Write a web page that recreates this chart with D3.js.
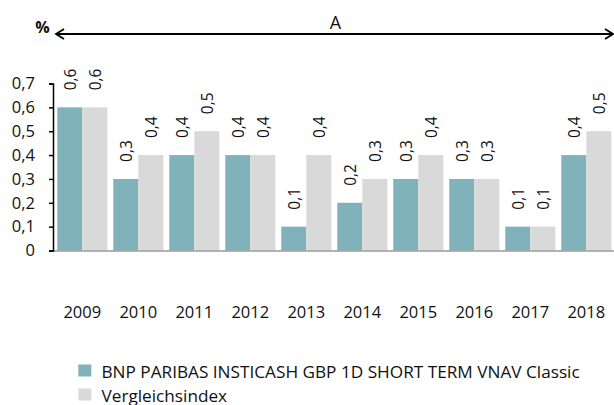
<!DOCTYPE html>
<html><head><meta charset="utf-8">
<script src="https://cdn.jsdelivr.net/npm/d3@7"></script>
<style>body{margin:0;background:#fff}svg{display:block}text{font-family:"Open Sans",sans-serif;fill:#111}</style>
</head><body><svg id="c" width="614" height="405"></svg>
<script>
const years = ["2009","2010","2011","2012","2013","2014","2015","2016","2017","2018"];
const fund = [0.6,0.3,0.4,0.4,0.1,0.2,0.3,0.3,0.1,0.4];
const bench = [0.6,0.4,0.5,0.4,0.4,0.3,0.4,0.3,0.1,0.5];
const yTicks = [0,0.1,0.2,0.3,0.4,0.5,0.6,0.7];
const seriesNames = ["BNP PARIBAS INSTICASH GBP 1D SHORT TERM VNAV Classic","Vergleichsindex"];
const colors = ["#7fb3b9","#d9d9d9"];

const svg = d3.select("#c");
const x = d3.scaleBand().domain(years).range([57.3,611.3]).paddingInner(0.107).paddingOuter(0);
const sub = d3.scaleBand().domain([0,1]).range([0,x.bandwidth()]);
const y = d3.scaleLinear().domain([0,0.7]).range([250.5,83.5]);
const fmt = v => d3.format(".1f")(v).replace(".",",");

// bars
const series = [fund,bench];
series.forEach((vals,si)=>{
  svg.append("g").selectAll("rect").data(vals).join("rect")
    .attr("x",(d,i)=>x(years[i])+sub(si))
    .attr("y",d=>y(d)).attr("width",sub.bandwidth()).attr("height",d=>y(0)-y(d))
    .attr("fill",colors[si]);
  svg.append("g").selectAll("text").data(vals).join("text")
    .attr("transform",(d,i)=>`translate(${x(years[i])+sub(si)+sub.bandwidth()/2+5.8},${y(d)-17}) rotate(-90)`)
    .attr("font-size",15.5).text(d=>fmt(d));
});

// baseline
svg.append("line").attr("x1",53).attr("x2",614).attr("y1",y(0)+0.5).attr("y2",y(0)+0.5).attr("stroke","#999").attr("stroke-width",1.5);

// y axis
const ya = svg.append("g").attr("transform","translate(53,0)")
  .call(d3.axisLeft(y).tickValues(yTicks).tickFormat(d=>d===0?"0":fmt(d)).tickSizeInner(4).tickSizeOuter(4).tickPadding(14));
ya.select(".domain").attr("stroke","#000").attr("stroke-width",1.5);
ya.selectAll(".tick line").attr("stroke","#000").attr("stroke-width",1.5);
ya.selectAll("text").attr("font-size",16.5).attr("fill","#111").attr("font-family","Open Sans");

// x labels
svg.append("g").selectAll("text").data(years).join("text")
  .attr("x",d=>x(d)+x.bandwidth()/2).attr("y",318.3).attr("text-anchor","middle").attr("font-size",16.5).text(d=>d);

// top arrow
const ay = 34;
svg.append("line").attr("x1",56).attr("x2",613).attr("y1",ay).attr("y2",ay).attr("stroke","#000").attr("stroke-width",1.8);
svg.append("path").attr("d",`M64,${ay-5} L56,${ay} L64,${ay+5}`).attr("fill","none").attr("stroke","#000").attr("stroke-width",1.8);
svg.append("path").attr("d",`M605,${ay-5} L613,${ay} L605,${ay+5}`).attr("fill","none").attr("stroke","#000").attr("stroke-width",1.8);
svg.append("text").attr("x",335.5).attr("y",29).attr("text-anchor","middle").attr("font-size",18).text("A");
svg.append("text").attr("x",42.5).attr("y",33).attr("text-anchor","middle").attr("font-size",16).attr("font-weight","bold").text("%");

// legend
seriesNames.forEach((n,i)=>{
  const ly = 364.5 + i*24;
  svg.append("rect").attr("x",78.3).attr("y",ly).attr("width",13).attr("height",12).attr("fill",colors[i]);
  svg.append("text").attr("x",101.5).attr("y",ly+13).attr("font-size",17.2).text(n);
});
</script></body></html>
